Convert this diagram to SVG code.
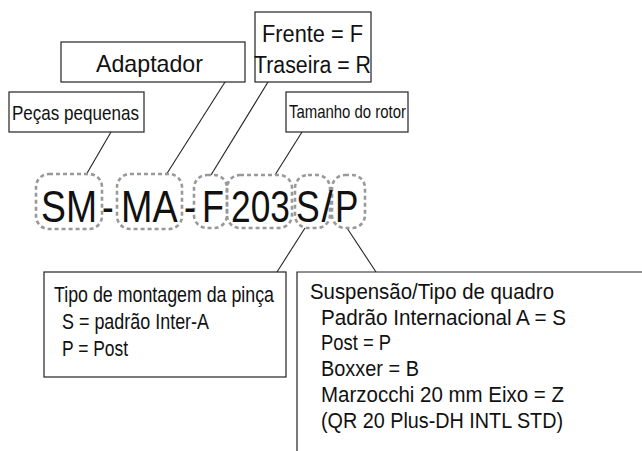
<svg xmlns="http://www.w3.org/2000/svg" width="642" height="451" viewBox="0 0 642 451">
<style>
.box{fill:#fff;stroke:#222;stroke-width:1.2}
.dbox{fill:none;stroke:#999;stroke-width:2.6;stroke-dasharray:4 3}
.t{font-family:"Liberation Sans",Arial,sans-serif;fill:#111}
.big{font-size:45px}
.conn line{stroke:#222;stroke-width:1.1}
</style>
<rect width="642" height="451" fill="#fff"/>
<g class="conn">
<line x1="111" y1="132" x2="86" y2="175"/>
<line x1="225" y1="82" x2="166" y2="175"/>
<line x1="268" y1="82" x2="211" y2="175"/>
<line x1="302" y1="132" x2="275" y2="175"/>
<line x1="305" y1="228" x2="277" y2="272"/>
<line x1="347" y1="228" x2="376" y2="272"/>
</g>
<g id="adaptador">
<rect class="box" x="61" y="42" width="184" height="40"/>
<text class="t" x="96" y="72" font-size="24" textLength="107" lengthAdjust="spacingAndGlyphs">Adaptador</text>
</g>
<g id="frente">
<rect class="box" x="255" y="12" width="116" height="70"/>
<text class="t" x="262" y="42" font-size="23" textLength="101" lengthAdjust="spacingAndGlyphs">Frente = F</text>
<text class="t" x="254" y="73" font-size="23" textLength="117" lengthAdjust="spacingAndGlyphs">Traseira = R</text>
</g>
<g id="pecas">
<rect class="box" x="9" y="92" width="135" height="40"/>
<text class="t" x="12" y="120" font-size="21" textLength="127" lengthAdjust="spacingAndGlyphs">Peças pequenas</text>
</g>
<g id="tamanho">
<rect class="box" x="286" y="92" width="122" height="40"/>
<text class="t" x="289" y="118" font-size="19" textLength="117" lengthAdjust="spacingAndGlyphs">Tamanho do rotor</text>
</g>
<g id="code">
<rect class="dbox" x="36" y="174" width="66" height="55" rx="13"/>
<rect class="dbox" x="117" y="174" width="65" height="55" rx="13"/>
<rect class="dbox" x="194" y="175" width="33" height="53" rx="13"/>
<rect class="dbox" x="227" y="175" width="65" height="53" rx="13"/>
<rect class="dbox" x="295" y="175" width="35" height="53" rx="13"/>
<rect class="dbox" x="332" y="175" width="33" height="53" rx="13"/>
<text class="t big" transform="translate(41,222) scale(0.83,1)">SM</text>
<text class="t big" transform="translate(102,222) scale(0.78,1)">-</text>
<text class="t big" transform="translate(121,222) scale(0.84,1)">MA</text>
<text class="t big" transform="translate(184,222) scale(0.78,1)">-</text>
<text class="t big" transform="translate(202,222) scale(0.8,1)">F</text>
<text class="t big" transform="translate(231,222) scale(0.785,1)">203</text>
<text class="t big" transform="translate(296,222) scale(0.79,1)">S</text>
<text class="t big" transform="translate(321.5,222) scale(0.9,1)">/</text>
<text class="t big" transform="translate(335,222) scale(0.78,1)">P</text>
</g>
<g id="pinca">
<rect class="box" x="44" y="272" width="242" height="105"/>
<text class="t" x="54" y="302" font-size="22" textLength="220" lengthAdjust="spacingAndGlyphs">Tipo de montagem da pinça</text>
<text class="t" x="62" y="329" font-size="22" textLength="147" lengthAdjust="spacingAndGlyphs">S = padrão Inter-A</text>
<text class="t" x="62" y="356" font-size="22" textLength="66" lengthAdjust="spacingAndGlyphs">P = Post</text>
</g>
<g id="suspensao">
<path class="box" d="M297 452 V272 H643"/>
<text class="t" x="310" y="299" font-size="22" textLength="244" lengthAdjust="spacingAndGlyphs">Suspensão/Tipo de quadro</text>
<text class="t" x="321" y="325" font-size="22" textLength="245" lengthAdjust="spacingAndGlyphs">Padrão Internacional A = S</text>
<text class="t" x="321" y="350" font-size="22" textLength="70" lengthAdjust="spacingAndGlyphs">Post = P</text>
<text class="t" x="321" y="376" font-size="22" textLength="98" lengthAdjust="spacingAndGlyphs">Boxxer = B</text>
<text class="t" x="321" y="402" font-size="22" textLength="243" lengthAdjust="spacingAndGlyphs">Marzocchi 20 mm Eixo = Z</text>
<text class="t" x="321" y="428" font-size="22" textLength="242" lengthAdjust="spacingAndGlyphs">(QR 20 Plus-DH INTL STD)</text>
</g>
</svg>
